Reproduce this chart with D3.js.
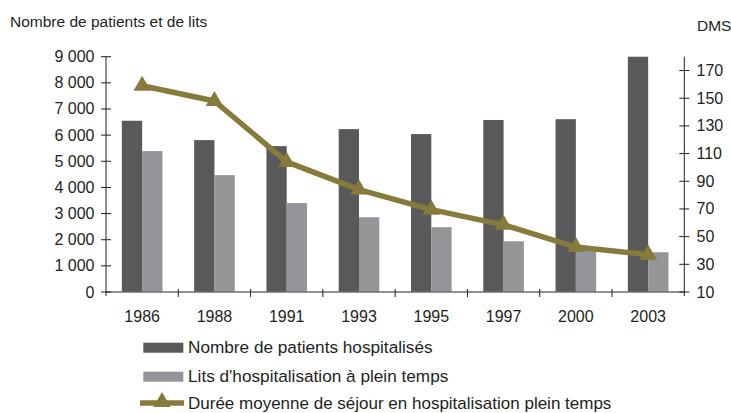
<!DOCTYPE html>
<html><head><meta charset="utf-8">
<script src="https://cdn.jsdelivr.net/npm/d3@7"></script>
<style>
body{margin:0;background:#fff;}
text{font-family:"Liberation Sans",Arial,sans-serif;fill:#231f20;}
</style></head>
<body><svg id="c" width="731" height="413"></svg>
<script>
const years = ["1986","1988","1991","1993","1995","1997","2000","2003"];
const patients = [6550, 5810, 5580, 6230, 6040, 6580, 6610, 9000];
const lits = [5390, 4470, 3400, 2860, 2480, 1940, 1600, 1520];
const dms = [159, 148, 104, 84, 69.5, 58.5, 42.5, 37];
const leftTicks = [0,1000,2000,3000,4000,5000,6000,7000,8000,9000];
const rightTicks = [10,30,50,70,90,110,130,150,170];
const seriesNames = ["Nombre de patients hospitalisés","Lits d'hospitalisation à plein temps","Durée moyenne de séjour en hospitalisation plein temps"];

const C_DARK="#58595b", C_LIGHT="#939598", C_LINE="#877b3c", C_AX="#231f20";
const svg = d3.select("#c");
const x0=106, x1=684.3, yB=292, yT=56.7;
const x = d3.scaleBand().domain(years).range([x0,x1]).padding(0);
const yL = d3.scaleLinear().domain([0,9000]).range([yB,yT]);
const yR = d3.scaleLinear().domain([10,180]).range([yB,yT]);
const bw = 20.3;
const fmt = v => d3.format(",")(v).replace(/,/g," ");

// bars
const g = svg.append("g");
years.forEach((yr,i)=>{
  const cx = x(yr)+x.bandwidth()/2;
  g.append("rect").attr("x",cx-bw).attr("width",bw).attr("y",yL(patients[i])).attr("height",yB-yL(patients[i])).attr("fill",C_DARK);
  g.append("rect").attr("x",cx).attr("width",bw).attr("y",yL(lits[i])).attr("height",yB-yL(lits[i])).attr("fill",C_LIGHT);
});

// x axis
svg.append("line").attr("x1",x0).attr("x2",x1).attr("y1",yB).attr("y2",yB).attr("stroke","#6d6e71").attr("stroke-width",1.3);
years.slice(1).forEach(yr=>{
  svg.append("line").attr("x1",x(yr)).attr("x2",x(yr)).attr("y1",yB-3).attr("y2",yB+5).attr("stroke",C_AX).attr("stroke-width",1);
});
years.forEach(yr=>{
  svg.append("text").attr("x",x(yr)+x.bandwidth()/2).attr("y",321.5).attr("text-anchor","middle").attr("font-size","16px").text(yr);
});

// left axis
svg.append("line").attr("x1",x0).attr("x2",x0).attr("y1",yT).attr("y2",yB+4).attr("stroke",C_AX).attr("stroke-width",1);
leftTicks.forEach(t=>{
  svg.append("line").attr("x1",x0-5).attr("x2",x0+5).attr("y1",yL(t)).attr("y2",yL(t)).attr("stroke",C_AX).attr("stroke-width",1);
  svg.append("text").attr("x",94.5).attr("y",yL(t)+5.5).attr("text-anchor","end").attr("font-size","16px").text(fmt(t));
});
// right axis
svg.append("line").attr("x1",x1).attr("x2",x1).attr("y1",yT).attr("y2",yB+4).attr("stroke",C_AX).attr("stroke-width",1);
rightTicks.forEach(t=>{
  svg.append("line").attr("x1",x1-5).attr("x2",x1+5).attr("y1",yR(t)).attr("y2",yR(t)).attr("stroke",C_AX).attr("stroke-width",1);
  svg.append("text").attr("x",696.5).attr("y",yR(t)+5.5).attr("text-anchor","start").attr("font-size","16px").text(t);
});

// titles
svg.append("text").attr("x",10).attr("y",27.3).attr("font-size","15.5px").text("Nombre de patients et de lits");
svg.append("text").attr("x",697).attr("y",30.7).attr("font-size","15.5px").text("DMS");

// line
const line = d3.line().x((d,i)=>x(years[i])+x.bandwidth()/2).y(d=>yR(d));
svg.append("path").datum(dms).attr("d",line).attr("fill","none").attr("stroke",C_LINE).attr("stroke-width",5.5).attr("stroke-linejoin","round");
const tri = d3.symbol().type(d3.symbolTriangle).size(130);
dms.forEach((d,i)=>{
  svg.append("path").attr("d",tri()).attr("transform",`translate(${x(years[i])+x.bandwidth()/2},${yR(d)})`).attr("fill",C_LINE);
});

// legend
const lg = svg.append("g");
lg.append("rect").attr("x",143.3).attr("y",342.7).attr("width",40).attr("height",10).attr("fill",C_DARK);
lg.append("text").attr("x",188).attr("y",352.7).attr("font-size","17.2px").text(seriesNames[0]);
lg.append("rect").attr("x",143.3).attr("y",371.7).attr("width",40).attr("height",10).attr("fill",C_LIGHT);
lg.append("text").attr("x",188).attr("y",381.7).attr("font-size","17.2px").text(seriesNames[1]);
lg.append("line").attr("x1",140).attr("x2",184).attr("y1",403).attr("y2",403).attr("stroke",C_LINE).attr("stroke-width",5.5);
lg.append("path").attr("d",tri()).attr("transform","translate(162,402)").attr("fill",C_LINE);
lg.append("text").attr("x",188).attr("y",408.8).attr("font-size","17px").text(seriesNames[2]);
</script></body></html>
